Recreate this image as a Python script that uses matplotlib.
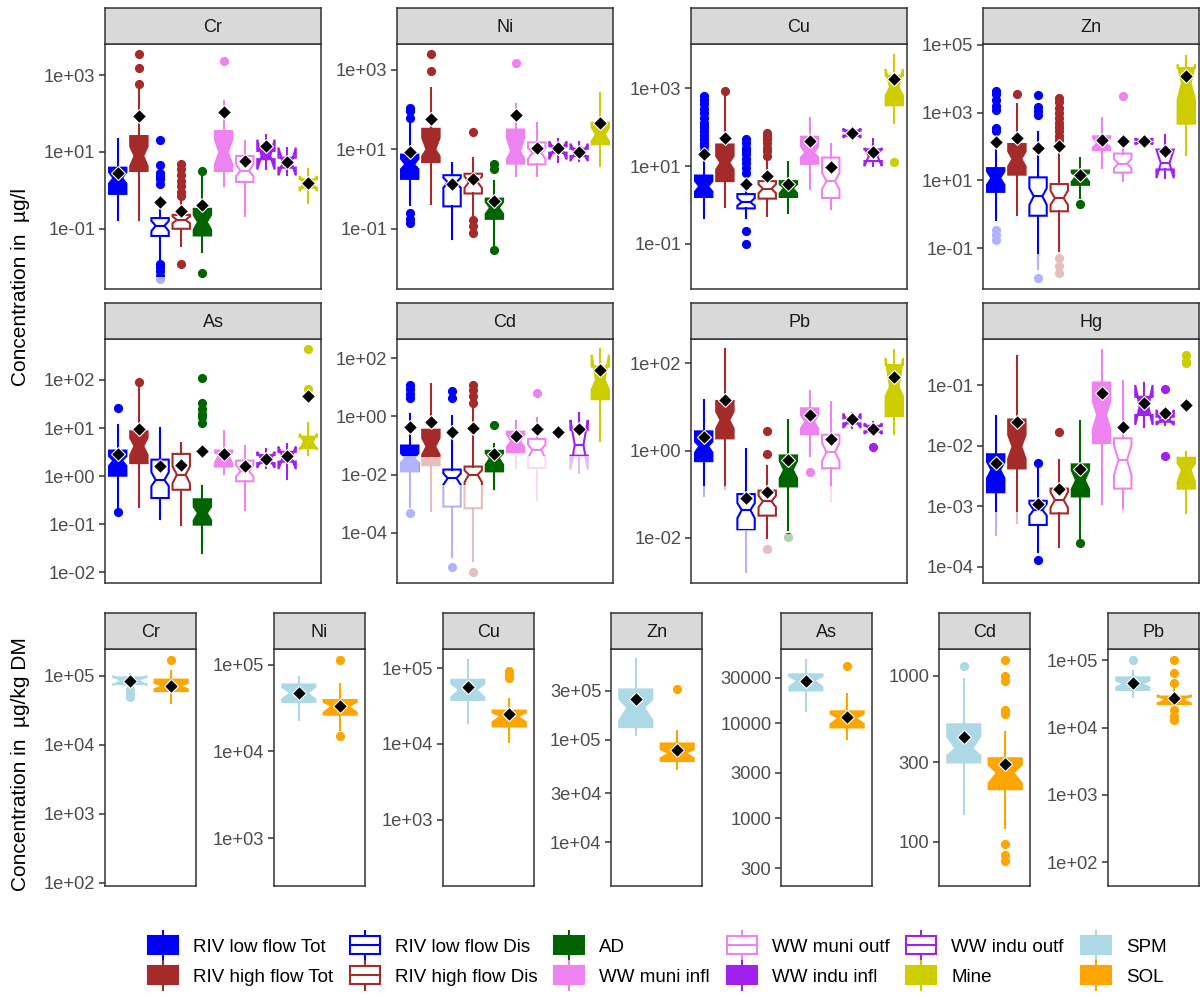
import matplotlib
matplotlib.use("Agg")
import matplotlib.pyplot as plt
from matplotlib.patches import Patch, Rectangle
from matplotlib.lines import Line2D
from matplotlib.legend_handler import HandlerBase
from matplotlib.ticker import FixedLocator, FixedFormatter, NullLocator

plt.rcParams['font.family'] = ['Liberation Sans', 'DejaVu Sans']

# ---- categories -------------------------------------------------------
groups = ["RIV low flow Tot", "RIV high flow Tot", "RIV low flow Dis", "RIV high flow Dis",
          "AD", "WW muni infl", "WW muni outf", "WW indu infl", "WW indu outf", "Mine"]
group_colors = ["#0000FF", "#A52A2A", "#0000FF", "#A52A2A", "#006400",
                "#EE82EE", "#EE82EE", "#A020F0", "#A020F0", "#CDCD00"]
group_filled = [True, True, False, False, True, True, False, True, False, True]

solid_groups = ["SPM", "SOL"]
solid_colors = ["#ADD8E6", "#FFA500"]

# ---- water samples (ug/l) -------------------------------------------
# each box: whisker low, q1, median, q3, whisker high, notch low, notch high, mean
cr_box = [(0.17, 0.81, 2.1, 3.9, 22, 1.5, 3.0, 2.9),
          (0.17, 3.2, 7.9, 26, 430, 4.3, 14, 87),
          (0.0145, 0.065, 0.12, 0.19, 0.36, 0.087, 0.16, 0.5),
          (0.036, 0.1, 0.17, 0.23, 0.6, 0.14, 0.21, 0.29),
          (0.025, 0.067, 0.15, 0.33, 2.5, 0.095, 0.23, 0.42),
          (1.3, 3.2, 9.8, 35, 215, 4.8, 21, 107),
          (0.22, 1.66, 3.2, 7.9, 19.5, 2.35, 4.8, 5.9),
          (3.5, 6.5, 7.9, 10.7, 27, 3.5, 21, 14.4),
          (2.45, 3.9, 5.3, 7.1, 13, 2.45, 13, 5.6),
          (0.48, 1.17, 1.6, 1.94, 3.5, 0.96, 2.35, 1.6)]
cr_out = [[], [600, 1500, 3500], [20, 4.6, 2.9, 2.3, 2.0, 1.5, 0.012, 0.01, 0.008, 0.006, 0.005],
          [4.8, 3.5, 2.5, 1.8, 1.3, 0.9, 0.7, 0.012], [3.2, 0.007], [2350], [], [], [], []]
cr_lod = [None, None, 0.0055, None, None, None, None, None, None, None]

ni_box = [(0.41, 1.82, 4.2, 7.4, 51, 3.2, 5.8, 8.5),
          (0.43, 4.8, 10, 33, 355, 6.8, 19.5, 59),
          (0.056, 0.37, 1.5, 2.25, 4.6, 1.08, 1.94, 1.36),
          (0.22, 0.78, 1.5, 2.45, 6.2, 1.08, 2.1, 1.82),
          (0.04, 0.18, 0.34, 0.58, 1.58, 0.24, 0.48, 0.52),
          (2.1, 4.4, 9.1, 31.6, 136, 5.8, 19.5, 74),
          (2.1, 4.2, 8.3, 15, 45, 5.8, 10.7, 10.6),
          (4.8, 8.3, 10, 12, 17.8, 5.6, 16, 10.6),
          (5.1, 6.8, 8.3, 10.4, 15, 5.1, 14, 8.5),
          (3.8, 13.5, 24, 47, 257, 16, 35.7, 47)]
ni_out = [[112, 90, 63, 0.25, 0.18, 0.14], [2450, 940], [], [28, 0.17, 0.12, 0.08],
          [4.2, 3.2, 0.03], [1520], [], [], [], []]
ni_lod = [None] * 10

cu_box = [(0.46, 1.6, 3.0, 5.7, 15, 2.2, 4.1, 21),
          (0.89, 4.1, 12.2, 36, 700, 8.2, 18, 52),
          (0.46, 0.81, 1.17, 1.9, 2.35, 0.96, 1.5, 3.5),
          (0.51, 1.45, 2.6, 4.1, 15, 2.0, 3.4, 5.7),
          (0.62, 1.6, 2.7, 4.1, 13, 2.0, 3.4, 3.4),
          (2.6, 11.4, 22, 57, 178, 16.6, 33, 45),
          (0.79, 1.5, 4.1, 16.6, 36, 2.5, 6.7, 9.6),
          (61, 61, 70, 82, 82, 54, 93, 70),
          (10, 13.5, 18, 27, 51, 10, 29.5, 23),
          (132, 370, 1070, 2130, 7300, 650, 3160, 1740)]
cu_out = [[650, 500, 400, 300, 230, 170, 130, 100, 80, 65, 50, 40, 33, 25], [840],
          [49, 40, 30, 25, 20, 15, 12, 9, 6.8, 0.21, 0.1],
          [73, 60, 50, 40, 30, 24, 18], [], [], [], [], [], [12.6]]
cu_lod = [None] * 10

zn_box = [(0.7, 4.6, 11.7, 23, 91, 7.4, 18.6, 132),
          (0.98, 14.8, 43, 118, 1820, 26, 72, 178),
          (0.025, 0.91, 3.4, 12.3, 260, 1.9, 5.9, 89),
          (0.081, 1.23, 3.0, 7.8, 100, 1.9, 5.0, 100),
          (3.0, 7.4, 13.2, 19.5, 46, 9.0, 17, 14.8),
          (23, 78, 126, 200, 690, 93, 178, 158),
          (9.3, 17, 31, 62, 200, 23, 43, 150),
          (126, 126, 141, 158, 158, 115, 175, 148),
          (11.7, 21, 32, 81, 224, 11.7, 81, 72),
          (58, 470, 7400, 20500, 48000, 2400, 26000, 12300)]
zn_out = [[4200, 3500, 2400, 1600, 1200, 350, 280, 0.35, 0.25, 0.18], [3550],
          [3400, 1500, 1100, 870, 0.013],
          [2700, 2000, 1400, 1000, 700, 500, 380, 280, 200, 160, 0.05, 0.03, 0.019],
          [2.0], [], [3000], [], [], []]
zn_lod = [0.6, None, 0.07, 0.07, None, None, None, None, None, None]

as_box = [(0.2, 1.02, 2.1, 3.4, 11.7, 1.63, 2.6, 2.9),
          (0.23, 1.86, 4.2, 8.5, 72, 2.75, 6.2, 9.6),
          (0.13, 0.35, 0.83, 2.2, 10, 0.62, 1.2, 1.63),
          (0.098, 0.52, 1.07, 2.9, 4.9, 0.71, 1.58, 1.74),
          (0.025, 0.098, 0.17, 0.33, 0.63, 0.12, 0.23, 3.4),
          (1.1, 1.58, 2.8, 3.4, 8.5, 1.86, 3.1, 2.9),
          (0.2, 0.78, 1.26, 2.1, 4.3, 0.98, 1.74, 1.63),
          (1.48, 1.86, 2.2, 2.75, 3.6, 1.48, 3.2, 2.3),
          (0.87, 2.0, 2.45, 3.2, 4.7, 1.4, 4.1, 2.6),
          (2.7, 3.8, 5.2, 6.6, 13, 3.5, 7.6, 47)]
as_out = [[26, 0.18], [92], [], [], [112, 33, 25, 20, 17, 13], [], [], [], [], [440, 64]]
as_lod = [None] * 10

cd_box = [(0.0008, 0.013, 0.037, 0.1, 1.23, 0.026, 0.055, 0.45),
          (0.00055, 0.021, 0.093, 0.35, 12.8, 0.048, 0.18, 0.67),
          (1.5e-5, 0.0008, 0.0076, 0.015, 1.0, 0.0045, 0.011, 0.3),
          (1.05e-5, 0.0007, 0.01, 0.019, 2.2, 0.0055, 0.014, 0.4),
          (0.0032, 0.013, 0.037, 0.066, 0.11, 0.022, 0.055, 0.052),
          (0.017, 0.055, 0.14, 0.3, 0.71, 0.09, 0.24, 0.21),
          (0.0014, 0.017, 0.072, 0.17, 0.87, 0.037, 0.107, 0.37),
          (None, None, None, None, None, None, None, 0.3),
          (0.011, 0.045, 0.105, 0.35, 1.3, 0.015, 0.76, 0.37),
          (0.145, 3.9, 18, 52, 204, 8.2, 130, 40)]
cd_out = [[12, 9, 6, 4.3, 0.00048], [], [7.2, 4.3, 7e-6], [12, 8, 5, 2.9, 4.4e-6],
          [0.51], [], [6.6], [], [], []]
cd_lod = [0.045, 0.04, 0.0045, 0.0045, None, 0.055, 0.045, None, 0.045, None]

pb_box = [(0.09, 0.57, 1.26, 2.75, 14.5, 0.9, 1.6, 2.0),
          (0.13, 1.9, 5.0, 13.7, 210, 3.2, 7.8, 14.5),
          (0.0016, 0.015, 0.043, 0.1, 1.1, 0.028, 0.062, 0.08),
          (0.01, 0.032, 0.068, 0.12, 0.45, 0.05, 0.092, 0.11),
          (0.015, 0.15, 0.36, 0.77, 5.0, 0.23, 0.58, 0.62),
          (0.74, 2.35, 4.6, 9.3, 23.5, 3.2, 6.6, 6.6),
          (0.071, 0.39, 0.91, 2.3, 12.8, 0.57, 1.5, 1.87),
          (3.3, 4.2, 4.6, 5.5, 7.1, 3.3, 7.1, 5.4),
          (2.5, 2.75, 3.1, 3.7, 4.6, 2.4, 4.2, 3.2),
          (2.35, 6.2, 29, 92, 204, 17.5, 130, 48)]
pb_out = [[], [], [], [2.8, 0.83, 0.0054], [0.0104], [0.32], [], [], [1.2], []]
pb_lod = [0.15, 0.15, 0.015, 0.007, 0.012, None, 0.15, None, None, None]

hg_box = [(0.00033, 0.0017, 0.004, 0.0072, 0.031, 0.0029, 0.0054, 0.0052),
          (0.00052, 0.0042, 0.0096, 0.027, 0.30, 0.0061, 0.015, 0.0245),
          (0.000178, 0.00049, 0.00087, 0.00123, 0.0045, 0.0007, 0.0011, 0.0011),
          (0.000215, 0.00076, 0.00126, 0.00195, 0.0058, 0.00095, 0.0017, 0.00195),
          (0.000295, 0.00145, 0.0027, 0.0049, 0.0258, 0.0019, 0.0039, 0.0041),
          (0.00107, 0.011, 0.032, 0.11, 0.38, 0.019, 0.053, 0.073),
          (0.00081, 0.00195, 0.0058, 0.0132, 0.117, 0.0033, 0.0101, 0.0205),
          (0.0205, 0.032, 0.044, 0.064, 0.11, 0.022, 0.1, 0.05),
          (0.022, 0.0248, 0.026, 0.030, 0.039, 0.022, 0.039, 0.034),
          (0.00078, 0.00195, 0.004, 0.0063, 0.0077, 0.0025, 0.0051, 0.047)]
hg_out = [[], [], [0.0051, 0.000129], [0.0166], [0.000245], [], [], [], [0.085, 0.0068],
          [0.31, 0.25, 0.23]]
hg_lod = [0.0008, 0.0008, None, None, None, None, 0.0009, None, None, None]

top_metals = ["Cr", "Ni", "Cu", "Zn", "As", "Cd", "Pb", "Hg"]
top_boxes = [cr_box, ni_box, cu_box, zn_box, as_box, cd_box, pb_box, hg_box]
top_outs = [cr_out, ni_out, cu_out, zn_out, as_out, cd_out, pb_out, hg_out]
top_lods = [cr_lod, ni_lod, cu_lod, zn_lod, as_lod, cd_lod, pb_lod, hg_lod]
top_ticks = [[1e-1, 1e1, 1e3], [1e-1, 1e1, 1e3], [1e-1, 1e1, 1e3], [1e-1, 1e1, 1e3, 1e5],
             [1e-2, 1e-1, 1e0, 1e1, 1e2], [1e-4, 1e-2, 1e0, 1e2], [1e-2, 1e0, 1e2],
             [1e-4, 1e-3, 1e-2, 1e-1]]
top_ylims = [(0.0027, 6500), (0.0031, 4470), (0.0068, 14000), (0.0063, 105000),
             (0.006, 708), (1.9e-6, 457), (0.00091, 363), (5.4e-5, 0.575)]

# ---- solid samples (ug/kg DM) ----------------------------------------
sol_metals = ["Cr", "Ni", "Cu", "Zn", "As", "Cd", "Pb"]
sol_boxes = [
    [(70000, 76000, 85000, 95000, 107000, 74000, 98000, 85000),
     (40000, 60000, 71000, 88000, 118000, 64000, 79000, 72000)],
    [(23000, 37000, 47000, 59000, 72000, 40000, 55000, 47000),
     (17800, 26500, 33000, 39000, 60000, 28000, 37000, 33000)],
    [(18800, 38000, 52000, 70000, 129000, 41000, 62000, 56000),
     (10500, 17000, 23000, 27500, 39000, 19500, 26000, 24600)],
    [(112000, 133000, 205000, 310000, 610000, 155000, 250000, 250000),
     (52000, 62000, 74000, 92000, 123000, 66000, 81000, 80000)],
    [(13500, 22000, 28000, 32500, 46000, 24000, 31000, 28000),
     (6800, 9000, 11300, 13300, 20000, 9800, 12500, 11700)],
    [(146, 300, 365, 510, 950, 330, 430, 430),
     (121, 207, 260, 318, 460, 225, 290, 293)],
    [(29000, 36500, 45000, 56000, 70000, 40000, 50000, 46000),
     (21000, 22500, 26000, 29000, 37000, 23000, 30000, 27500)]]
sol_outs = [
    [[63000, 55000, 50000], [170000]],
    [[], [114000, 15000]],
    [[], [91000, 80000, 74000]],
    [[], [315000]],
    [[], [39500]],
    [[1150], [1250, 1000, 925, 620, 590, 97, 83, 76]],
    [[102000], [100000, 66000, 46000, 18000, 15000, 13000]]]
sol_ticks = [[1e2, 1e3, 1e4, 1e5], [1e3, 1e4, 1e5], [1e3, 1e4, 1e5], [1e4, 3e4, 1e5, 3e5],
             [300, 1000, 3000, 10000, 30000], [100, 300, 1000], [1e2, 1e3, 1e4, 1e5]]
sol_plain = [False, False, False, False, True, True, False]
sol_ylims = [(89, 245000), (282, 151000), (135, 178000), (3740, 769000),
             (195, 60000), (54, 1450), (44, 148000)]

# ---- layout (pixels) --------------------------------------------------
W, H = 1200, 998
fig = plt.figure(figsize=(W / 100, H / 100), dpi=100)
EDGE = "#333333"


def panel(left, width, strip_top, strip_bot, plot_bot, title):
    ax = fig.add_axes([left / W, 1 - plot_bot / H, width / W, (plot_bot - strip_bot) / H])
    st = fig.add_axes([left / W, 1 - strip_bot / H, width / W, (strip_bot - strip_top) / H])
    st.set_facecolor("#D9D9D9")
    st.set_xticks([])
    st.set_yticks([])
    for s in st.spines.values():
        s.set_color(EDGE)
        s.set_linewidth(1.1)
    st.text(0.5, 0.46, title, ha="center", va="center", fontsize=13, color="#1A1A1A",
            transform=st.transAxes)
    for s in ax.spines.values():
        s.set_color(EDGE)
        s.set_linewidth(1.1)
        s.set_zorder(20)
    ax.set_yscale("log")
    ax.set_xticks([])
    ax.tick_params(axis="y", length=4, width=1.1, color=EDGE, labelcolor="#4D4D4D",
                   labelsize=13.2, pad=3)
    return ax


def draw_box(ax, pos, vals, fliers, color, filled, width):
    lo, q1, med, q3, hi, clo, chi, mean = vals
    if med is None:
        ax.plot([pos], [mean], marker="D", ls="none", mfc="black", mec="white",
                ms=6.8, mew=0.8, zorder=12)
        return
    st = dict(whislo=lo, q1=q1, med=med, q3=q3, whishi=hi, cilo=clo, cihi=chi,
              mean=mean, fliers=fliers)
    res = ax.bxp([st], positions=[pos], widths=width, shownotches=True, patch_artist=True,
                 showmeans=True, showcaps=False, manage_ticks=False,
                 boxprops=dict(facecolor=color if filled else "white", edgecolor=color,
                               linewidth=1.5),
                 medianprops=dict(color=color, linewidth=1.5),
                 whiskerprops=dict(color=color, linewidth=1.5),
                 flierprops=dict(marker="o", mfc=color, mec=color, ms=5.6),
                 meanprops=dict(marker="D", mfc="black", mec="white", ms=6.8, mew=0.8))
    for m in res["means"]:
        m.set_zorder(12)


def fade_below(ax, pos, lod):
    # values under the quantification limit are drawn pale
    if lod is None:
        return
    ax.fill_between([pos - 0.46, pos + 0.46], ax.get_ylim()[0], lod, color="white",
                    alpha=0.7, lw=0, zorder=10)


top_lefts = [105, 397, 691, 983]
rows = [(8, 44, 289), (303, 339, 583)]
for k, metal in enumerate(top_metals):
    r, c = divmod(k, 4)
    ax = panel(top_lefts[c], 216, *rows[r], metal)
    for i in range(len(groups)):
        draw_box(ax, i + 1, top_boxes[k][i], top_outs[k][i], group_colors[i],
                 group_filled[i], 0.82)
    ax.set_xlim(0.4, len(groups) + 0.6)
    ax.set_ylim(*top_ylims[k])
    for i in range(len(groups)):
        fade_below(ax, i + 1, top_lods[k][i])
    ax.yaxis.set_major_locator(FixedLocator(top_ticks[k]))
    ax.yaxis.set_major_formatter(FixedFormatter(["%.0e" % t for t in top_ticks[k]]))
    ax.yaxis.set_minor_locator(NullLocator())

sol_lefts = [105, 274, 443, 611, 781, 939, 1108]
for k, metal in enumerate(sol_metals):
    ax = panel(sol_lefts[k], 91, 613, 649, 886, metal)
    for i in range(2):
        draw_box(ax, i + 1, sol_boxes[k][i], sol_outs[k][i], solid_colors[i], True, 0.8)
    ax.set_xlim(0.4, 2.6)
    ax.set_ylim(*sol_ylims[k])
    ax.yaxis.set_major_locator(FixedLocator(sol_ticks[k]))
    if sol_plain[k]:
        labels = ["%d" % t for t in sol_ticks[k]]
    else:
        labels = ["%.0e" % t for t in sol_ticks[k]]
    ax.yaxis.set_major_formatter(FixedFormatter(labels))
    ax.yaxis.set_minor_locator(NullLocator())

fig.text(21 / W, 1 - 287 / H, "Concentration in  \u00b5g/l", rotation=90, ha="center",
         va="center", fontsize=15, color="black")
fig.text(21 / W, 1 - 764 / H, "Concentration in  \u00b5g/kg DM", rotation=90, ha="center",
         va="center", fontsize=15, color="black")


# ---- legend -------------------------------------------------------------
class BoxKey(HandlerBase):
    def create_artists(self, legend, orig, xd, yd, w, h, fontsize, trans):
        fc = orig.get_facecolor()
        ec = orig.get_edgecolor()
        x0, y0 = -xd, -yd
        arts = [Line2D([x0 + w / 2] * 2, [y0 - 0.3 * h, y0 + 1.3 * h], color=ec, lw=1.5,
                       transform=trans),
                Rectangle((x0, y0), w, h, facecolor=fc, edgecolor=ec, lw=1.5,
                          transform=trans)]
        if orig.get_label() == "outline":
            arts.append(Line2D([x0, x0 + w], [y0 + h / 2] * 2, color=ec, lw=1.5,
                               transform=trans))
        return arts


leg_names = groups + solid_groups
leg_cols = group_colors + solid_colors
leg_fill = group_filled + [True, True]
handles = []
for name, col, f in zip(leg_names, leg_cols, leg_fill):
    handles.append(Patch(facecolor=col if f else "white", edgecolor=col,
                         label="filled" if f else "outline"))
fig.legend(handles, leg_names, ncol=6, loc="center", bbox_to_anchor=(657 / W, 1 - 961 / H),
           frameon=False, fontsize=13.5, handlelength=1.6, handleheight=1.1,
           handletextpad=0.8, columnspacing=0.9, labelspacing=0.55,
           handler_map={Patch: BoxKey()})

fig.savefig("out.png", dpi=100)
